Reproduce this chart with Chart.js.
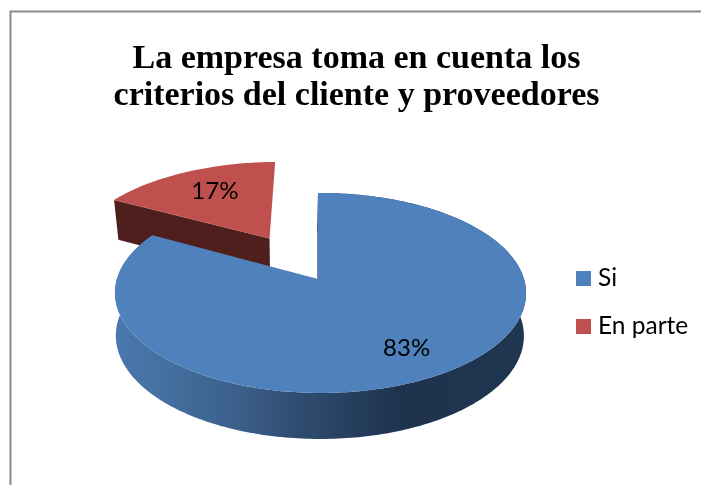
<!DOCTYPE html>
<html>
<head>
<meta charset="utf-8">
<style>html,body{margin:0;padding:0;background:#fff}canvas{display:block}</style>
<script src="https://cdn.jsdelivr.net/npm/chart.js@4"></script>
</head>
<body>
<canvas id="c" width="701" height="485"></canvas>
<script>
const titleLines = ['La empresa toma en cuenta los', 'criterios del cliente y proveedores'];
const categories = ['Si', 'En parte'];
const values = [83, 17];
const percentLabels = ['83%', '17%'];
const topColors = ['#4f81bd', '#c0504d'];
const explode = [0, 0.51];
const labelRadius = [0.75, 0.68];
const labelTurn = [-0.02, 0.02];

// Perspective of the tilted pie, in unit-circle plane coordinates
const view = {ax: 318, ay: 279, R: 203.5, Rback: 207, S: 98, k: 0.14, m: 0.012,
              ax2: 317.4, R2: 202, S2: 101.2, D: 42.3, explodeX: 0.96};
const w = (u, v) => 1 - view.k * v - view.m * u;
const top3 = (u, v) => [view.ax + view.R * u / w(u, v), view.ay + view.S * v / w(u, v)];
const back3 = (u, v) => [view.ax + view.Rback * u / w(u, v), view.ay + view.S * v / w(u, v)];
const low3 = (u, v) => [view.ax2 + view.R2 * u / w(u, v), view.ay + view.D + view.S2 * v / w(u, v)];

function rim(el, off, proj) {
  const pts = [], n = Math.ceil((el.endAngle - el.startAngle) / (Math.PI / 180));
  for (let i = 0; i <= n; i++) {
    const a = el.startAngle + (el.endAngle - el.startAngle) * i / n;
    pts.push(proj(off[0] + Math.cos(a), off[1] + Math.sin(a)));
  }
  return pts;
}
function fillPts(ctx, pts, fill) {
  ctx.beginPath();
  pts.forEach((p, i) => i ? ctx.lineTo(p[0], p[1]) : ctx.moveTo(p[0], p[1]));
  ctx.closePath();
  ctx.fillStyle = fill;
  ctx.fill();
}
function offsetOf(el, i) {
  const mid = (el.startAngle + el.endAngle) / 2;
  return [explode[i] * view.explodeX * Math.cos(mid), explode[i] * Math.sin(mid)];
}

const pie3d = {
  id: 'pie3d',
  beforeDraw(chart) {
    const c = chart.ctx;
    c.save();
    c.strokeStyle = '#8a8a8a';
    c.lineWidth = 2;
    c.beginPath();
    c.moveTo(10.5, 485); c.lineTo(10.5, 11.5); c.lineTo(701, 11.5);
    c.stroke();
    c.restore();
  },
  afterLayout(chart) {
    const l = chart.legend;
    const pad = l.options.labels.padding;
    const dx = 576 - (l.left + pad - 5.25);
    l.left += dx; l.right += dx;
    const dy = 278.5 - (l.top + pad + 12.25);
    l.top += dy; l.bottom += dy;
    const t = chart.titleBlock;
    t.left += 6; t.right += 6;
  },
  beforeDatasetsDraw(chart) {
    const c = chart.ctx;
    const els = chart.getDatasetMeta(0).data;
    c.save();
    // En parte: exploded slice behind
    {
      const el = els[1];
      const off = offsetOf(el, 1);
      const a = el.startAngle;
      const p = [off[0] + Math.cos(a), off[1] + Math.sin(a)];
      fillPts(c, [back3(p[0], p[1]), back3(off[0], off[1]), low3(off[0], off[1]), low3(p[0], p[1])], '#4f1f1d');
      fillPts(c, [back3(off[0], off[1])].concat(rim(el, off, back3)), topColors[1]);
    }
    // Si: side wall, then top face
    {
      const el = els[0];
      const g = c.createLinearGradient(116, 0, 526, 0);
      g.addColorStop(0, '#4a78ae');
      g.addColorStop(0.12, '#44709f');
      g.addColorStop(0.3, '#3c5f8b');
      g.addColorStop(0.45, '#2f4c6f');
      g.addColorStop(0.7, '#1e324e');
      g.addColorStop(1, '#203650');
      const up = rim(el, [0, 0], top3), lo = rim(el, [0, 0], low3);
      fillPts(c, up.concat(lo.slice().reverse()), g);
      fillPts(c, [top3(0, 0), top3(0, -1), low3(0, -1), low3(0, 0)], '#1f3654');
      fillPts(c, [top3(0, 0)].concat(up), topColors[0]);
    }
    c.restore();
    return false;
  },
  afterDraw(chart) {
    const c = chart.ctx;
    c.save();
    c.font = '24px Lato';
    c.fillStyle = '#000';
    c.textAlign = 'center';
    c.textBaseline = 'middle';
    chart.getDatasetMeta(0).data.forEach((el, i) => {
      const mid = (el.startAngle + el.endAngle) / 2;
      const off = offsetOf(el, i);
      const a = mid + labelTurn[i];
      const p = top3(off[0] + labelRadius[i] * Math.cos(a), off[1] + labelRadius[i] * Math.sin(a));
      c.fillText(percentLabels[i], p[0], p[1]);
    });
    c.restore();
  }
};

new Chart(document.getElementById('c'), {
  type: 'pie',
  data: {
    labels: categories,
    datasets: [{data: values, backgroundColor: topColors, borderWidth: 0}]
  },
  plugins: [pie3d],
  options: {
    responsive: false,
    animation: false,
    layout: {padding: 0},
    plugins: {
      tooltip: {enabled: false},
      title: {
        display: true,
        text: titleLines,
        color: '#000',
        font: {family: '"Liberation Serif"', size: 34, weight: 'bold', lineHeight: 1.09},
        padding: {top: 41, bottom: 10}
      },
      legend: {
        position: 'right',
        align: 'start',
        labels: {
          color: '#000',
          font: {family: 'Lato', size: 24.5},
          usePointStyle: true,
          pointStyle: 'rect',
          boxWidth: 4.5,
          boxHeight: 15,
          padding: 23.5
        }
      }
    }
  }
});
</script>
</body>
</html>
